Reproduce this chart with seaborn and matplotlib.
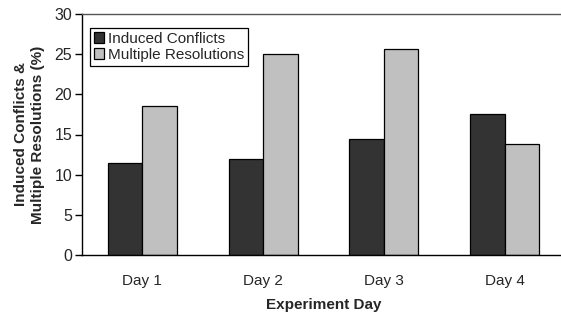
import pandas as pd
import numpy as np
import matplotlib
matplotlib.use('Agg')
import matplotlib.pyplot as plt
import seaborn as sns

# Values
days = ['Day 1', 'Day 2', 'Day 3', 'Day 4']
induced = [11.4, 11.9, 14.5, 17.5]
multiple = [18.6, 25.0, 25.6, 13.8]
series_names = ['Induced Conflicts', 'Multiple Resolutions']
yticks = [0, 5, 10, 15, 20, 25, 30]

df = pd.DataFrame({
    'Day': days * 2,
    'Series': [series_names[0]] * len(days) + [series_names[1]] * len(days),
    'Value': induced + multiple,
})

sns.set_style('white')
plt.rcParams['font.family'] = ['Liberation Sans', 'DejaVu Sans']
plt.rcParams['font.size'] = 11

fig = plt.figure(figsize=(5.61, 3.17), dpi=100)
ax = fig.add_axes([82 / 561, 1 - 255 / 317, 483 / 561, 241 / 317])

sns.barplot(data=df, x='Day', y='Value', hue='Series', hue_order=series_names,
            palette=['#333333', '#c0c0c0'], width=0.57, ax=ax,
            edgecolor='black', linewidth=0.9, saturation=1)

ax.set_ylim(0, 30)
ax.set_xlim(-0.5, 3.5)
ax.set_yticks(yticks)
ax.set_yticklabels([str(t) for t in yticks], fontsize=11.5)

# labels centred, tick marks between categories
ax.set_xticks(range(len(days)))
ax.set_xticklabels(days, fontsize=11)
ax.set_xticks(np.arange(-0.5, len(days), 1), minor=True)
ax.tick_params(axis='x', which='major', length=0, pad=14)
ax.tick_params(axis='x', which='minor', length=5, width=1, color='#555555', direction='out')
ax.tick_params(axis='y', which='major', length=5, width=1, color='black', direction='out', pad=2, left=True)

for side in ['left', 'bottom']:
    ax.spines[side].set_color('black')
    ax.spines[side].set_linewidth(1)
ax.spines['top'].set_color('#555555')
ax.spines['top'].set_linewidth(1)
ax.spines['right'].set_visible(False)

ax.set_xlabel('Experiment Day', fontsize=11, fontweight='bold', labelpad=7)
ax.set_ylabel('Induced Conflicts &\nMultiple Resolutions (%)', fontsize=11,
              fontweight='bold', labelpad=7, linespacing=1.3)

leg = ax.legend(loc='upper left', bbox_to_anchor=(0.016, 0.942), borderaxespad=0,
                fancybox=False, edgecolor='black', framealpha=1, fontsize=11,
                handlelength=0.7, handleheight=0.7, handletextpad=0.25,
                borderpad=0.25, labelspacing=0.15, title=None)
leg.get_frame().set_linewidth(0.9)

plt.savefig('out.png', dpi=100)
plt.close()
